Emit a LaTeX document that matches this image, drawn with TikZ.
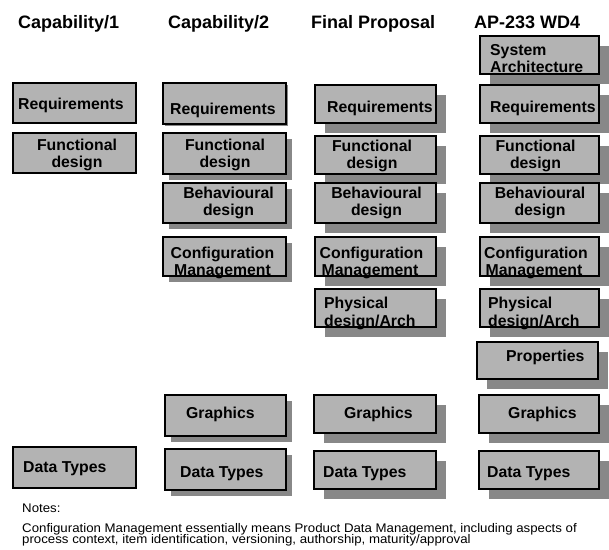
\documentclass[tikz,border=0pt]{standalone}
\usepackage{fontspec}
\setmainfont{Liberation Sans}
\newfontfamily\titlefont{Liberation Sans Bold}
\newfontfamily\boxfont{Liberation Sans Bold}
\newfontfamily\notefont[FakeStretch=1.06]{Liberation Sans}
\usetikzlibrary{shadows}
\definecolor{boxgray}{HTML}{B3B3B3}
\definecolor{shadegray}{HTML}{888888}
\newcommand\pbox[6]{%
  \node[box,#6,minimum width={(#4-#2)*1pt},minimum height={(#5-#3)*1pt}] (#1) at ({(#2+#4)/2},{(#3+#5)/2}) {};}
\begin{document}
\begin{tikzpicture}[x=1pt,y=-1pt,
  box/.style={draw=black, line width=1.6pt, fill=boxgray, rectangle, inner sep=0pt, outer sep=0pt},
  shA/.style={drop shadow={shadow xshift=2pt, shadow yshift=-2pt, opacity=1, fill=shadegray}},
  shB/.style={drop shadow={shadow xshift=6pt, shadow yshift=-6pt, opacity=1, fill=shadegray}},
  shC/.style={drop shadow={shadow xshift=10pt, shadow yshift=-10pt, opacity=1, fill=shadegray}},
  noshade/.style={},
  lab/.style={inner sep=0pt, font=\boxfont\fontsize{15.8}{17.5}\selectfont},
  labw/.style={lab, anchor=base west},
  labc/.style={lab, anchor=base},
  ttl/.style={inner sep=0pt, anchor=base west, font=\titlefont\fontsize{18}{20}\selectfont},
  note/.style={inner sep=0pt, anchor=base west, font=\notefont\fontsize{12.5}{13}\selectfont}]
\useasboundingbox[fill=white] (0,0) rectangle (609,549);

% titles
\node[ttl] (t1) at (18,28) {Capability/1};
\node[ttl] (t2) at (168,28) {Capability/2};
\node[ttl] (t3) at (311,28) {Final Proposal};
\node[ttl] (t4) at (474,28) {AP-233 WD4};

% column 1
\pbox{c1req}{13}{83}{136}{123}{noshade}
\pbox{c1fun}{13}{133}{136}{173}{noshade}
\pbox{c1dat}{13}{447}{136}{488}{noshade}
\node[labw] (c1reqT) at (18,109) {Requirements};
\node[labc] (c1funT1) at (77,150) {Functional};
\node[labc] (c1funT2) at (77,167) {design};
\node[labw] (c1datT) at (23,472) {Data Types};

% column 2
\pbox{c2req}{163}{83}{286}{124}{shA}
\pbox{c2fun}{163}{133}{286}{174}{shB}
\pbox{c2beh}{163}{183}{286}{223}{shB}
\pbox{c2cfg}{163}{237}{286}{276}{shB}
\pbox{c2gra}{165}{395}{286}{436}{shB}
\pbox{c2dat}{165}{449}{286}{490}{shB}
\node[labw] (c2reqT) at (170,114) {Requirements};
\node[labc] (c2funT1) at (225,150) {Functional};
\node[labc] (c2funT2) at (225,167) {design};
\node[labc] (c2behT1) at (228.5,198) {Behavioural};
\node[labc] (c2behT2) at (228.5,215) {design};
\node[labc] (c2cfgT1) at (222.5,258) {Configuration};
\node[labc] (c2cfgT2) at (222.5,275.5) {Management};
\node[labw] (c2graT) at (186,418) {Graphics};
\node[labw] (c2datT) at (180,477) {Data Types};

% column 3
\pbox{c3req}{315}{85}{436}{123}{shC}
\pbox{c3fun}{315}{136}{436}{174}{shC}
\pbox{c3beh}{315}{183}{436}{223}{shC}
\pbox{c3cfg}{315}{237}{436}{276}{shC}
\pbox{c3phy}{315}{289}{436}{327}{shC}
\pbox{c3gra}{314}{395}{436}{433}{shC}
\pbox{c3dat}{314}{451}{436}{489}{shC}
\node[labw] (c3reqT) at (327,112) {Requirements};
\node[labc] (c3funT1) at (372,151) {Functional};
\node[labc] (c3funT2) at (372,168) {design};
\node[labc] (c3behT1) at (376.5,198) {Behavioural};
\node[labc] (c3behT2) at (376.5,215) {design};
\node[labc] (c3cfgT1) at (371.5,258) {Configuration};
\node[labc] (c3cfgT2) at (370,275.5) {Management};
\node[labw] (c3phyT1) at (324,308) {Physical};
\node[labw] (c3phyT2) at (324,326) {design/Arch};
\node[labw] (c3graT) at (344,418) {Graphics};
\node[labw] (c3datT) at (323,477) {Data Types};

% column 4
\pbox{c4sys}{480}{36}{599}{74}{shC}
\pbox{c4req}{480}{85}{599}{123}{shC}
\pbox{c4fun}{480}{136}{599}{174}{shC}
\pbox{c4beh}{480}{183}{599}{223}{shC}
\pbox{c4cfg}{480}{237}{599}{276}{shC}
\pbox{c4phy}{480}{289}{599}{327}{shC}
\pbox{c4pro}{477}{342}{598}{379}{shC}
\pbox{c4gra}{479}{395}{599}{433}{shC}
\pbox{c4dat}{479}{451}{599}{489}{shC}
\node[labw] (c4sysT1) at (490,55) {System};
\node[labw] (c4sysT2) at (490,72) {Architecture};
\node[labw] (c4reqT) at (490,112) {Requirements};
\node[labc] (c4funT1) at (535.5,151) {Functional};
\node[labc] (c4funT2) at (535.5,168) {design};
\node[labc] (c4behT1) at (540,198) {Behavioural};
\node[labc] (c4behT2) at (540,215) {design};
\node[labc] (c4cfgT1) at (536,258) {Configuration};
\node[labc] (c4cfgT2) at (534,275.5) {Management};
\node[labw] (c4phyT1) at (488,308) {Physical};
\node[labw] (c4phyT2) at (488,326) {design/Arch};
\node[labw] (c4proT) at (506,361) {Properties};
\node[labw] (c4graT) at (508,418) {Graphics};
\node[labw] (c4datT) at (487,477) {Data Types};

% notes
\node[note] (n0) at (22,512) {Notes:};
\node[note] (n1) at (22,532) {Configuration Management essentially means Product Data Management, including aspects of};
\node[note] (n2) at (22,543) {process context, item identification, versioning, authorship, maturity/approval};
\end{tikzpicture}
\end{document}
